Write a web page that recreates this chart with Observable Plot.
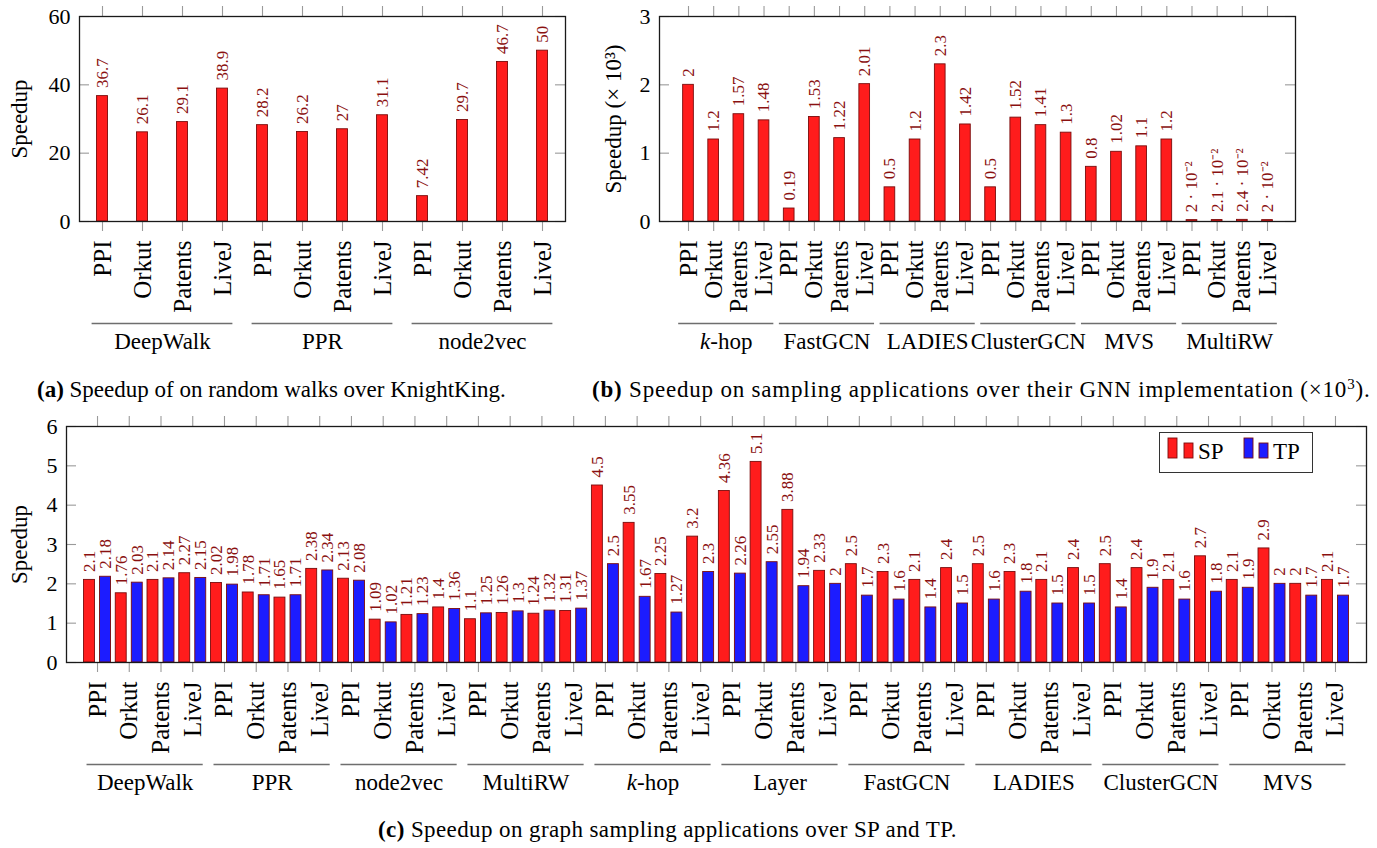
<!DOCTYPE html>
<html><head><meta charset="utf-8">
<script src="https://cdn.jsdelivr.net/npm/d3@7"></script>
<script src="https://cdn.jsdelivr.net/npm/@observablehq/plot@0.6"></script>
<style>
body{margin:0;background:#fff;}
#root{position:relative;width:1377px;height:848px;overflow:hidden;font-family:"Liberation Serif",serif;background:#fff;}
.panel{position:absolute;overflow:visible;}
.cap{position:absolute;font-size:23px;line-height:23px;white-space:nowrap;color:#000;}
.sup{font-size:15px;position:relative;top:-8px;}
</style></head><body><div id="root"></div>
<script>
// ---------- data ----------
const datasets = ["PPI", "Orkut", "Patents", "LiveJ"];

const groupsA = ["DeepWalk", "PPR", "node2vec"];
const valuesA = [36.7, 26.1, 29.1, 38.9, 28.2, 26.2, 27, 31.1, 7.42, 29.7, 46.7, 50];
const ticksA = [0, 20, 40, 60];

const groupsB = ["k-hop", "FastGCN", "LADIES", "ClusterGCN", "MVS", "MultiRW"];
const valuesB = [2, 1.2, 1.57, 1.48, 0.19, 1.53, 1.22, 2.01, 0.5, 1.2, 2.3, 1.42,
                 0.5, 1.52, 1.41, 1.3, 0.8, 1.02, 1.1, 1.2, 0.02, 0.021, 0.024, 0.02];
const labelsB = ["2", "1.2", "1.57", "1.48", "0.19", "1.53", "1.22", "2.01", "0.5", "1.2", "2.3", "1.42",
                 "0.5", "1.52", "1.41", "1.3", "0.8", "1.02", "1.1", "1.2",
                 "2 · 10⁻²", "2.1 · 10⁻²", "2.4 · 10⁻²", "2 · 10⁻²"];
const ticksB = [0, 1, 2, 3];

const groupsC = ["DeepWalk", "PPR", "node2vec", "MultiRW", "k-hop", "Layer", "FastGCN", "LADIES", "ClusterGCN", "MVS"];
const seriesC = ["SP", "TP"];
const spC = [2.1, 1.76, 2.1, 2.27, 2.02, 1.78, 1.65, 2.38, 2.13, 1.09, 1.21, 1.4, 1.1, 1.26, 1.24, 1.31,
             4.5, 3.55, 2.25, 3.2, 4.36, 5.1, 3.88, 2.33, 2.5, 2.3, 2.1, 2.4, 2.5, 2.3, 2.1, 2.4,
             2.5, 2.4, 2.1, 2.7, 2.1, 2.9, 2, 2.1];
const tpC = [2.18, 2.03, 2.14, 2.15, 1.98, 1.71, 1.71, 2.34, 2.08, 1.02, 1.23, 1.36, 1.25, 1.3, 1.32, 1.37,
             2.5, 1.67, 1.27, 2.3, 2.26, 2.55, 1.94, 2, 1.7, 1.6, 1.4, 1.5, 1.6, 1.8, 1.5, 1.5,
             1.4, 1.9, 1.6, 1.8, 1.9, 2, 1.7, 1.7];
const ticksC = [0, 1, 2, 3, 4, 5, 6];

// ---------- styles ----------
const FONT = "Liberation Serif";
const RED = "#ff1c1c", BLUE = "#1c1cff", EDGE = "#7a0c0c", LABEL = "#8a1010", TICK = "#9a9a9a";
const root = document.getElementById("root");
const NS = "http://www.w3.org/2000/svg";

function chart(cfg) {
  const {rows, groups, nTicks, yTicks, yDomain, xDomain, half, groupHalf, ylabel, ylabelDx,
         width, height, margins, left, top} = cfg;
  const xt = d3.range(nTicks);
  const gs = groups.map((g, k) => ({name: g, c: k * 4 + 1.5}));
  const svg = Plot.plot({
    width, height,
    marginLeft: margins[0], marginRight: margins[1], marginTop: margins[2], marginBottom: margins[3],
    x: {domain: xDomain, axis: null},
    y: {domain: yDomain, axis: null},
    style: {fontFamily: FONT, fontSize: "16px", overflow: "visible", background: "transparent", color: "#000"},
    marks: [
      Plot.ruleX(xt, {x: d => d, y1: yDomain[0], y2: yDomain[0], insetBottom: -10, stroke: TICK, strokeWidth: 1.1}),
      Plot.ruleX(xt, {x: d => d, y1: yDomain[1], y2: yDomain[1], insetTop: -10, stroke: TICK, strokeWidth: 1.1}),
      Plot.ruleY(yTicks, {y: d => d, x1: xDomain[0], x2: xDomain[0], insetRight: -10, stroke: TICK, strokeWidth: 1.1}),
      Plot.ruleY(yTicks, {y: d => d, x1: xDomain[1], x2: xDomain[1], insetLeft: -10, stroke: TICK, strokeWidth: 1.1}),
      Plot.rect(rows, {x1: d => d.i + d.off - half, x2: d => d.i + d.off + half, y1: 0, y2: d => d.value,
                       fill: d => d.color, stroke: EDGE, strokeWidth: 0.9}),
      Plot.text(rows, {x: d => d.i + d.off, y: d => d.value, text: d => d.label, rotate: -90,
                       textAnchor: "start", dy: -8, fill: LABEL, fontSize: 17}),
      Plot.frame({stroke: "#1a1a1a", strokeWidth: 1.3}),
      Plot.text(xt, {x: d => d, y: yDomain[0], text: d => datasets[d % 4], rotate: -90, textAnchor: "end",
                     dy: 19, fontSize: 25, fill: "#000"}),
      Plot.ruleY(gs, {x1: g => g.c - groupHalf, x2: g => g.c + groupHalf, y: yDomain[0], dy: 102,
                      stroke: "#6e6e6e", strokeWidth: 1.5}),
      Plot.text(gs, {x: g => g.c, y: yDomain[0], dy: 127, text: g => g.name, lineAnchor: "bottom",
                     fontSize: 23, fill: "#000"}),
      Plot.text(yTicks, {x: xDomain[0], y: d => d, text: d => String(d), textAnchor: "end", dx: -9,
                         fontSize: 22, fill: "#000"}),
      Plot.text([ylabel], {text: d => d, frameAnchor: "left", textAnchor: "middle", lineAnchor: "middle",
                           dx: ylabelDx, rotate: -90, fontSize: 23, fill: "#000"})
    ]
  });
  svg.classList.add("panel");
  svg.style.left = left + "px";
  svg.style.top = top + "px";
  svg.querySelectorAll("text").forEach(t => {
    if (t.childElementCount === 0 && t.textContent === "k-hop") {
      t.textContent = "";
      const s = document.createElementNS(NS, "tspan");
      s.setAttribute("font-style", "italic");
      s.textContent = "k";
      t.appendChild(s);
      t.appendChild(document.createTextNode("-hop"));
    }
  });
  root.appendChild(svg);
}

// (a)
chart({
  rows: valuesA.map((v, i) => ({i, off: 0, value: v, label: String(v), color: RED})),
  groups: groupsA, nTicks: 12, yTicks: ticksA, yDomain: [0, 60], xDomain: [-0.575, 11.575],
  half: 0.1375, groupHalf: 1.76, ylabel: "Speedup", ylabelDx: -60,
  width: 600, height: 400, margins: [79, 35, 16, 179], left: 0, top: 0
});

// (b)
chart({
  rows: valuesB.map((v, i) => ({i, off: 0, value: v, label: labelsB[i], color: RED})),
  groups: groupsB, nTicks: 24, yTicks: ticksB, yDomain: [0, 3], xDomain: [-1.152, 24.112],
  half: 0.2125, groupHalf: 1.89, ylabel: "Speedup (× 10³)", ylabelDx: -46,
  width: 787, height: 400, margins: [69, 82, 16, 179], left: 590, top: 0
});

// (c)
const rowsC = [];
spC.forEach((v, i) => rowsC.push({i, off: -0.2525, value: v, label: String(v), color: RED, series: seriesC[0]}));
tpC.forEach((v, i) => rowsC.push({i, off: 0.2525, value: v, label: String(v), color: BLUE, series: seriesC[1]}));
chart({
  rows: rowsC, groups: groupsC, nTicks: 40, yTicks: ticksC, yDomain: [0, 6], xDomain: [-0.977, 39.977],
  half: 0.1725, groupHalf: 1.83, ylabel: "Speedup", ylabelDx: -47,
  width: 1377, height: 438, margins: [66, 11, 16, 186], left: 0, top: 410
});

// legend for (c)
const leg = document.createElement("div");
leg.style.cssText = "position:absolute;left:1159px;top:432px;width:152px;height:39px;border:1.3px solid #333;background:#fff;";
leg.innerHTML = `<svg width="152" height="39" style="position:absolute;left:0;top:0;font-family:'${FONT}'">
  <rect x="8" y="5" width="9" height="20" fill="${RED}" stroke="${EDGE}" stroke-width="0.9"/>
  <rect x="24" y="10" width="9" height="15" fill="${RED}" stroke="${EDGE}" stroke-width="0.9"/>
  <text x="38" y="26" font-size="23">${seriesC[0]}</text>
  <rect x="84" y="5" width="9" height="20" fill="${BLUE}" stroke="${EDGE}" stroke-width="0.9"/>
  <rect x="99" y="10" width="9" height="15" fill="${BLUE}" stroke="${EDGE}" stroke-width="0.9"/>
  <text x="113" y="26" font-size="23">${seriesC[1]}</text></svg>`;
root.appendChild(leg);

// captions
function cap(html, left, top, extra) {
  const d = document.createElement("div");
  d.className = "cap";
  d.style.left = left + "px";
  d.style.top = top + "px";
  if (extra) d.style.cssText += extra;
  d.innerHTML = html;
  root.appendChild(d);
}
cap("<b>(a)</b> Speedup of on random walks over KnightKing.", 37, 378, "");
cap("<b>(b)</b> Speedup on sampling applications over their GNN implementation (×10<span class='sup'>3</span>).", 592, 378, "letter-spacing:0.8px;");
cap("<b>(c)</b> Speedup on graph sampling applications over SP and TP.", 378, 818, "letter-spacing:0.4px;");
</script></body></html>
